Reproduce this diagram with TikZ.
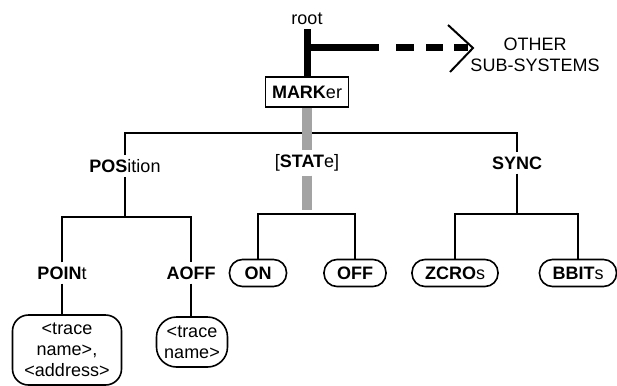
\documentclass[tikz,border=0pt]{standalone}
\usepackage{fontspec}
\setmainfont{Liberation Sans}
\usetikzlibrary{positioning, calc}

\begin{document}
\begin{tikzpicture}[x=1pt, y=-1pt,
    font=\fontsize{18}{21}\selectfont,
    txt/.style={inner sep=4pt, align=center},
    cmdbox/.style={draw, line width=1.8pt, minimum width=83pt, minimum height=30pt, inner sep=2pt},
    oval/.style={draw, line width=1.6pt, rounded corners=13pt, minimum height=27pt, minimum width=57pt, inner xsep=13pt, inner ysep=2pt},
    parambox/.style={draw, line width=1.6pt, rounded corners=16pt, align=center, inner sep=2pt},
    tree/.style={line width=1.6pt},
    heavy/.style={line width=7pt},
    shaded/.style={line width=10pt, draw=gray!72}
]
\useasboundingbox (0,0) rectangle (617,385);

% top: root, MARKer and the other sub-systems
\node[txt] (root) at (307,19) {root};
\node[cmdbox] (marker) at (307,92) {\textbf{MARK}er};
\node[txt] (other) at (535,55) {OTHER\\SUB-SYSTEMS};
\coordinate (tee) at (307,48);
\coordinate (tip) at (473,48);

\draw[heavy] (root.south) -- (marker.north);
\draw[heavy, dash pattern=on 72pt off 17pt on 18pt off 12pt on 17pt off 11pt on 30pt] (tee) -- ($(tip)+(-5,0)$);
\draw[line width=2pt] ($(tip)+(-25,-23)$) -- (tip) -- ($(tip)+(-23,24)$);

% second level
\node[txt] (position) at (125,166) {\textbf{POS}ition};
\node[txt] (state) at (307,163) {[\textbf{STAT}e]};
\node[txt] (sync) at (517,163) {\textbf{SYNC}};
\coordinate (topbar) at (307,133);

\draw[tree] (position.north) |- (topbar) -| (sync.north);

% leaves
\node[txt] (point) at (62,273) {\textbf{POIN}t};
\node[txt] (aoff) at (191,273) {\textbf{AOFF}};
\node[oval] (on) at (258,273) {\textbf{ON}};
\node[oval] (off) at (355,273) {\textbf{OFF}};
\node[oval] (zcros) at (455,273) {\textbf{ZCRO}s};
\node[oval] (bbits) at (578,273) {\textbf{BBIT}s};
\coordinate (posbar) at (125,217);
\coordinate (statebar) at (307,214);
\coordinate (syncbar) at (517,214);

\node[parambox, minimum width=109pt, minimum height=70pt] (pointarg) at (67,350) {<trace\\name>,\\<address>};
\node[parambox, rounded corners=20pt, minimum width=71pt, minimum height=50pt] (aoffarg) at (192,342) {<trace\\name>};

\draw[tree] (position.south) -- (posbar);
\draw[tree] (point.north) |- (posbar) -| (aoff.north);
\draw[tree] (on.north) |- (statebar) -| (off.north);
\draw[tree] (sync.south) -- (syncbar);
\draw[tree] (zcros.north) |- (syncbar) -| (bbits.north);
\draw[tree] (point.south) -- (point.south |- pointarg.north);
\draw[tree] (aoff.south) -- (aoff.south |- aoffarg.north);

% grey link through [STATe]
\draw[shaded] (marker.south) -- (state.north);
\draw[shaded] (state.south) -- ([yshift=4pt]statebar);
\end{tikzpicture}
\end{document}
